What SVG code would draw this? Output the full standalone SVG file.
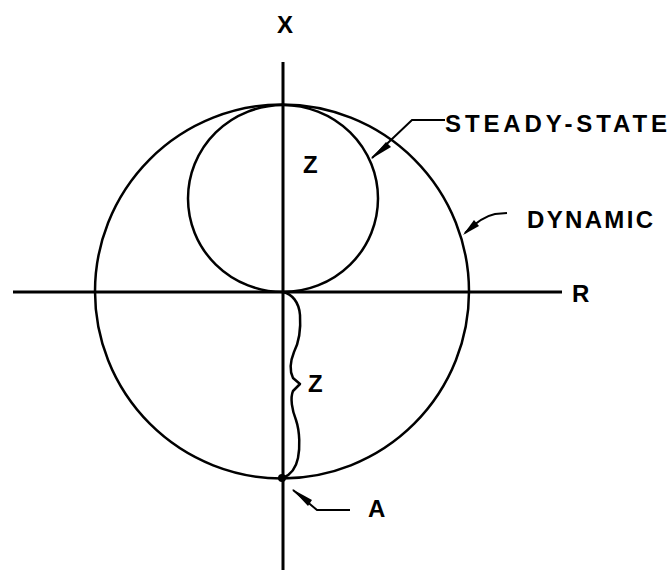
<svg xmlns="http://www.w3.org/2000/svg" width="670" height="574" viewBox="0 0 670 574">
<style>
.ln{fill:none;stroke:#000;stroke-width:2.5;stroke-linecap:round;stroke-linejoin:round}
.ax{fill:none;stroke:#000;stroke-width:3}
.ld{fill:none;stroke:#000;stroke-width:2}
.ah{fill:#000;stroke:none}
.t{font-family:"Liberation Sans",Arial,sans-serif;font-weight:bold;font-size:24px;fill:#000}
</style>
<rect width="670" height="574" fill="#fff"/>
<g id="axes">
<line class="ax" x1="283" y1="62" x2="283" y2="570"/>
<line class="ax" x1="13" y1="292" x2="562" y2="292"/>
<text class="t" x="285" y="33" text-anchor="middle">X</text>
<text class="t" x="572" y="302">R</text>
</g>
<g id="dynamic-circle">
<circle class="ln" cx="282" cy="291.5" r="187"/>
</g>
<g id="steady-state-circle">
<ellipse class="ln" cx="283" cy="198.5" rx="95" ry="93.5"/>
<text class="t" x="303" y="173">Z</text>
</g>
<g id="dynamic-z">
<path class="ln" d="M283,292 C292,294 299,302 300,315 C301,330 299,342 294,352 C290,362 290,372 293,378 L300,384 L293,391 C290,398 292,410 296,420 C300,432 300,448 298,458 C296,468 290,475 283,478"/>
<text class="t" x="308" y="392">Z</text>
</g>
<g id="point-a">
<circle cx="282" cy="478" r="4" fill="#000"/>
<text class="t" x="368" y="517">A</text>
</g>
<g id="connectors">
<path class="ld" d="M445,120 L412,120 L372,158"/>
<polygon class="ah" points="371,159 386,142 391,147"/>
<path class="ld" d="M507,213 L495,214 C485,216 476,222 465,233"/>
<polygon class="ah" points="463,235 474,220 479,226"/>
<path class="ld" d="M293,490 L317,510 L350,510"/>
<polygon class="ah" points="292,489 312,500 308,506"/>
</g>
<g id="labels">
<text class="t" x="445" y="132" textLength="222" lengthAdjust="spacing">STEADY-STATE</text>
<text class="t" x="527" y="228" textLength="126" lengthAdjust="spacing">DYNAMIC</text>
</g>
</svg>
